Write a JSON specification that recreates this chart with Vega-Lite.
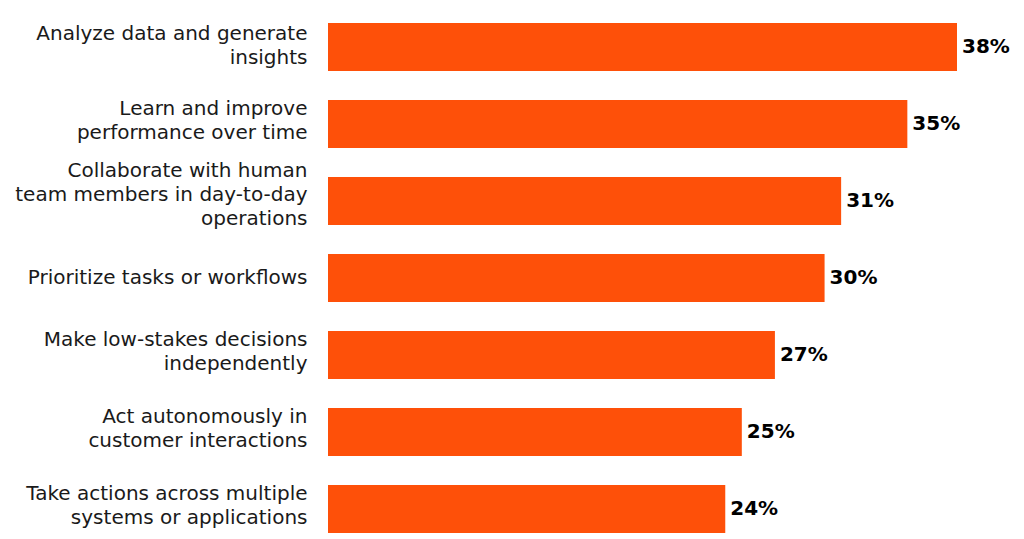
{
  "$schema": "https://vega.github.io/schema/vega-lite/v6.json",
  "width": 629,
  "height": 539,
  "autosize": {"type": "none"},
  "padding": {"left": 328, "top": 8.5, "right": 67, "bottom": 0},
  "background": "white",
  "config": {"view": {"stroke": null}, "font": "DejaVu Sans"},
  "data": {
    "values": [
      {"item": "Analyze data and generate|insights", "value": 38, "label": "38%"},
      {"item": "Learn and improve|performance over time", "value": 35, "label": "35%"},
      {"item": "Collaborate with human|team members in day-to-day|operations", "value": 31, "label": "31%"},
      {"item": "Prioritize tasks or workflows", "value": 30, "label": "30%"},
      {"item": "Make low-stakes decisions|independently", "value": 27, "label": "27%"},
      {"item": "Act autonomously in|customer interactions", "value": 25, "label": "25%"},
      {"item": "Take actions across multiple|systems or applications", "value": 24, "label": "24%"}
    ]
  },
  "encoding": {
    "y": {
      "field": "item",
      "type": "nominal",
      "sort": null,
      "scale": {"paddingInner": 0.3766, "paddingOuter": 0.1883},
      "axis": {
        "title": null,
        "domain": false,
        "ticks": false,
        "labelPadding": 21,
        "labelFontSize": 20,
        "labelColor": "#1a1a1a",
        "labelLineHeight": 24,
        "labelBaseline": "middle",
        "labelLimit": 400,
        "labelExpr": "split(datum.label, '|')",
        "labelOffset": {
          "condition": [
            {"test": "length(split(datum.value, '|')) == 3", "value": -30},
            {"test": "datum.value == 'Analyze data and generate|insights'", "value": -13},
            {"test": "length(split(datum.value, '|')) == 2", "value": -15}
          ],
          "value": 0
        }
      }
    },
    "x": {
      "field": "value",
      "type": "quantitative",
      "scale": {"domain": [0, 38], "nice": false},
      "axis": null
    }
  },
  "layer": [
    {"mark": {"type": "bar", "color": "#FE5009"}},
    {
      "mark": {"type": "text", "align": "left", "dx": 5, "fontSize": 20, "fontWeight": "bold", "color": "#000000", "baseline": "middle"},
      "encoding": {"text": {"field": "label", "type": "nominal"}}
    }
  ]
}
